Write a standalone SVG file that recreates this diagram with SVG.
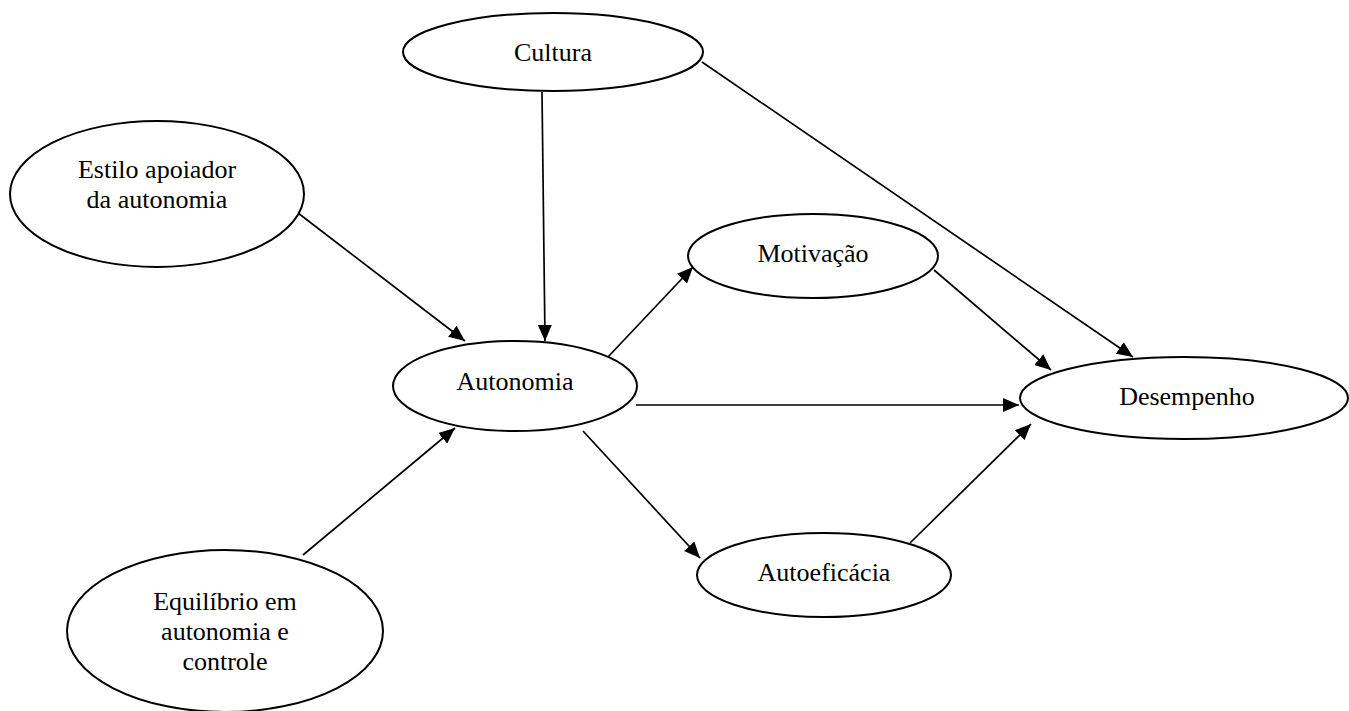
<svg xmlns="http://www.w3.org/2000/svg" width="1349" height="711" viewBox="0 0 1349 711">
<style>
.node ellipse{fill:#fff;stroke:#000;stroke-width:2}
.node text{font-family:"Liberation Serif","Times New Roman",serif;font-size:26px;fill:#000;text-anchor:middle}
#connectors line{stroke:#000;stroke-width:1.7;fill:none}
</style>
<defs>
<marker id="arr" markerUnits="userSpaceOnUse" markerWidth="17" markerHeight="14" refX="16" refY="7" orient="auto">
<path d="M0,0 L16,7 L0,14 Z" fill="#000"/>
</marker>
</defs>
<rect width="1349" height="711" fill="#fff"/>
<g id="connectors">
<line x1="298" y1="213" x2="465" y2="341" marker-end="url(#arr)"/>
<line x1="542" y1="92" x2="545" y2="341" marker-end="url(#arr)"/>
<line x1="303" y1="555" x2="455" y2="428" marker-end="url(#arr)"/>
<line x1="607" y1="358" x2="693" y2="267" marker-end="url(#arr)"/>
<line x1="636" y1="405" x2="1019" y2="405" marker-end="url(#arr)"/>
<line x1="583" y1="431" x2="700" y2="558" marker-end="url(#arr)"/>
<line x1="934" y1="270" x2="1051" y2="370" marker-end="url(#arr)"/>
<line x1="702" y1="62" x2="1133" y2="357" marker-end="url(#arr)"/>
<line x1="910" y1="543" x2="1031" y2="424" marker-end="url(#arr)"/>
</g>
<g id="cultura" class="node">
<ellipse cx="553" cy="52" rx="150" ry="39"/>
<text x="553" y="61">Cultura</text>
</g>
<g id="estilo" class="node">
<ellipse cx="157" cy="194" rx="147" ry="73"/>
<text x="157" y="178">Estilo apoiador</text>
<text x="157" y="208">da autonomia</text>
</g>
<g id="autonomia" class="node">
<ellipse cx="515" cy="386" rx="122" ry="45"/>
<text x="515" y="390">Autonomia</text>
</g>
<g id="motivacao" class="node">
<ellipse cx="813" cy="256" rx="125" ry="42"/>
<text x="813" y="262">Motivação</text>
</g>
<g id="desempenho" class="node">
<ellipse cx="1184" cy="398" rx="164" ry="41"/>
<text x="1187" y="405">Desempenho</text>
</g>
<g id="autoeficacia" class="node">
<ellipse cx="824" cy="575" rx="127" ry="42"/>
<text x="824" y="581">Autoeficácia</text>
</g>
<g id="equilibrio" class="node">
<ellipse cx="225" cy="631" rx="158" ry="81"/>
<text x="225" y="610">Equilíbrio em</text>
<text x="225" y="640">autonomia e</text>
<text x="225" y="670">controle</text>
</g>
</svg>
